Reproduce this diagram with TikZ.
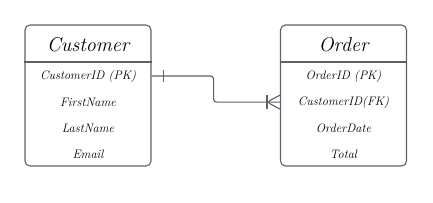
\documentclass[tikz,border=0pt]{standalone}
\usetikzlibrary{positioning}
\definecolor{edge}{HTML}{5C6168}

\begin{document}
\begin{tikzpicture}[
    x=1pt, y=-1pt,
    every node/.style={font=\itshape, text=black},
    entity/.style={draw=edge, line width=1.1pt, rectangle, rounded corners=5pt,
                   minimum width=126pt, minimum height=141pt, inner sep=0pt},
    etitle/.style={font=\fontsize{20}{22}\selectfont\itshape},
    attr/.style={font=\fontsize{12.3}{14}\selectfont\itshape, minimum height=25.7pt, inner sep=0pt},
    divider/.style={draw=edge, line width=1.3pt},
    rel/.style={draw=edge, line width=1.1pt, rounded corners=3pt}
]
\useasboundingbox (0,0) rectangle (433,203);

% Customer
\node[entity] (cust) at (88,95.5) {};
\node[etitle] (custT) at (88,45) {Customer};
\draw[divider] (cust.west |- 0,62) -- (cust.east |- 0,62);
\node[attr] (cust1) at (88,76) {CustomerID (PK)};
\node[attr, below=0pt of cust1] (cust2) {FirstName};
\node[attr, below=0pt of cust2] (cust3) {LastName};
\node[attr, below=0pt of cust3] (cust4) {Email};

% Order
\node[entity] (ord) at (343.5,95.5) {};
\node[etitle] (ordT) at (343.5,45) {Order};
\draw[divider] (ord.west |- 0,62) -- (ord.east |- 0,62);
\node[attr] (ord1) at (343.5,76) {OrderID (PK)};
\node[attr, below=0pt of ord1] (ord2) {CustomerID(FK)};
\node[attr, below=0pt of ord2] (ord3) {OrderDate};
\node[attr, below=0pt of ord3] (ord4) {Total};

% relationship
\draw[rel] (cust.east |- cust1) -- ++(62,0) |- (ord.west |- ord2);
\draw[rel] ([xshift=12pt]cust.east |- cust1) ++(0,-6) -- ++(0,12);
\draw[rel] ([xshift=-13pt]ord.west |- ord2) ++(0,-7) -- ++(0,14);
\draw[rel] ([yshift=7pt]ord.west |- ord2) -- ([xshift=-13pt]ord.west |- ord2) -- ([yshift=-7pt]ord.west |- ord2);
\end{tikzpicture}
\end{document}
